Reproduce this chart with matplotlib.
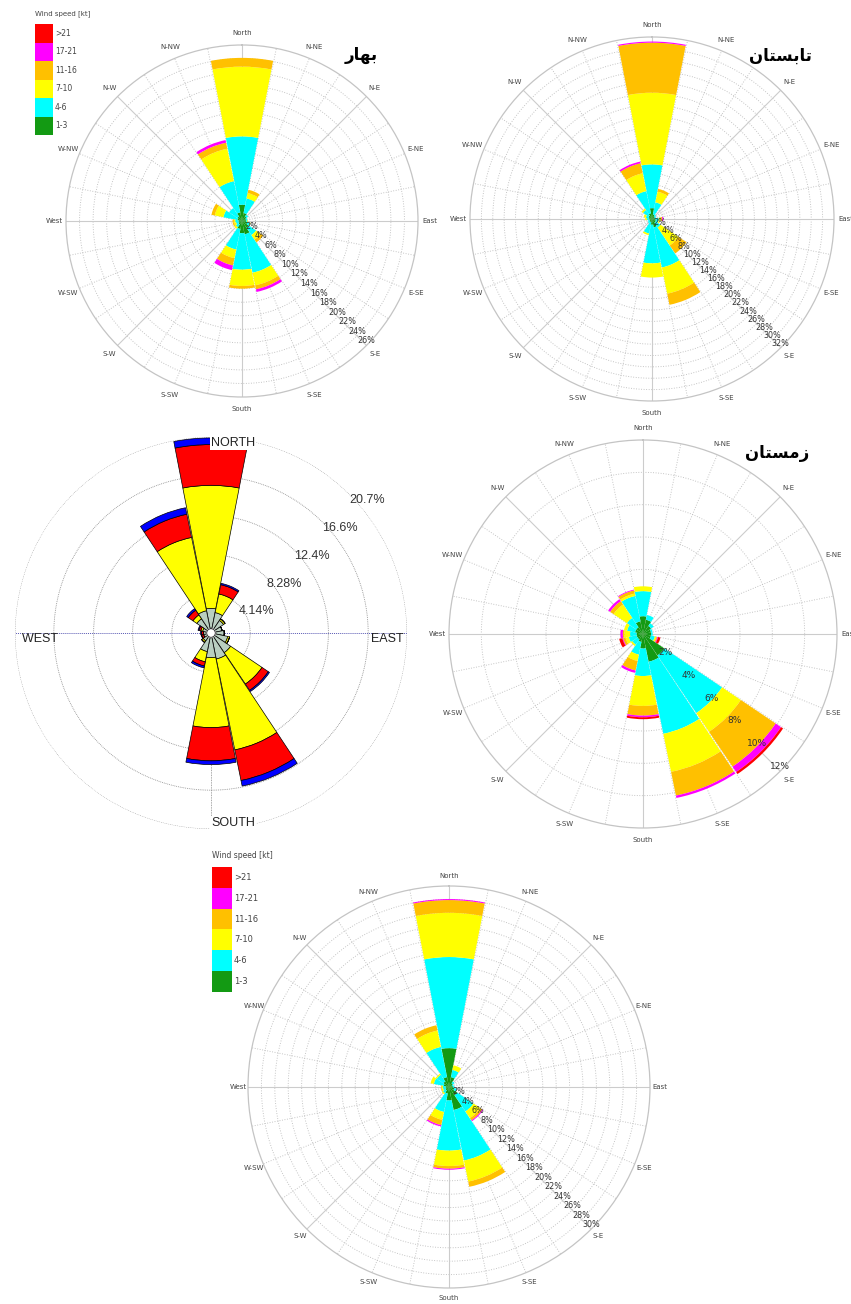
import numpy as np
import matplotlib
matplotlib.use("Agg")
import matplotlib.pyplot as plt
from matplotlib.patches import Rectangle

W, H = 851, 1304

dir_labels = ["North", "N-NE", "N-E", "E-NE", "East", "E-SE", "S-E", "S-SE",
              "South", "S-SW", "S-W", "W-SW", "West", "W-NW", "N-W", "N-NW"]
speed_classes = ["1-3", "4-6", "7-10", "11-16", "17-21", ">21"]
speed_colors = ["#139a13", "#00ffff", "#ffff00", "#ffc000", "#ff00ff", "#ff0000"]

# frequency (%) per speed class, rows = 1-3, 4-6, 7-10, 11-16, 17-21, >21
# columns = N, NNE, NE, ENE, E, ESE, SE, SSE, S, SSW, SW, WSW, W, WNW, NW, NNW
spring = [
    [2.4, 1.2, 0.8, 0.6, 0.6, 0.8, 1.2, 2.0, 1.8, 1.2, 0.6, 0.5, 0.5, 0.7, 0.8, 1.3],
    [10.1, 2.2, 0.3, 0.2, 0.2, 0.4, 1.3, 5.8, 5.4, 3.1, 0.5, 0.4, 0.5, 2.1, 1.5, 4.7],
    [10.3, 0.8, 0.0, 0.0, 0.1, 0.1, 0.8, 1.9, 2.4, 1.3, 0.3, 0.3, 0.2, 1.3, 0.0, 4.9],
    [1.3, 0.5, 0.0, 0.0, 0.0, 0.0, 0.5, 0.6, 0.4, 1.1, 0.0, 0.2, 0.2, 0.5, 0.0, 0.9],
    [0.0, 0.0, 0.0, 0.0, 0.0, 0.0, 0.0, 0.4, 0.0, 0.7, 0.0, 0.0, 0.0, 0.0, 0.0, 0.4],
    [0.0] * 16,
]
summer = [
    [1.9, 0.8, 0.6, 0.5, 0.6, 0.7, 0.8, 1.5, 1.0, 0.6, 0.5, 0.4, 0.5, 0.6, 0.7, 1.0],
    [7.7, 2.2, 0.3, 0.2, 0.6, 0.5, 1.0, 7.2, 6.8, 2.0, 0.4, 0.3, 0.4, 0.5, 1.2, 4.0],
    [12.6, 1.9, 0.0, 0.0, 0.3, 0.2, 3.8, 4.7, 2.5, 0.3, 0.0, 0.0, 0.3, 0.4, 0.3, 3.2],
    [8.8, 0.5, 0.0, 0.0, 0.3, 0.0, 1.7, 2.0, 0.0, 0.0, 0.0, 0.0, 0.0, 0.0, 0.0, 1.8],
    [0.2, 0.0, 0.0, 0.0, 0.2, 0.0, 0.0, 0.0, 0.0, 0.0, 0.0, 0.0, 0.0, 0.0, 0.0, 0.3],
    [0.0] * 16,
]
winter = [
    [1.1, 0.9, 0.6, 0.5, 0.5, 0.5, 1.6, 1.75, 0.9, 0.5, 0.4, 0.4, 0.4, 0.5, 0.5, 0.8],
    [1.55, 0.3, 0.2, 0.1, 0.1, 0.25, 4.3, 4.55, 1.7, 0.8, 0.4, 0.5, 0.4, 0.5, 0.7, 1.6],
    [0.3, 0.0, 0.0, 0.0, 0.0, 0.1, 1.4, 2.4, 1.85, 0.4, 0.1, 0.2, 0.35, 0.2, 1.0, 0.15],
    [0.0, 0.0, 0.0, 0.0, 0.0, 0.05, 2.6, 1.5, 0.6, 0.6, 0.0, 0.15, 0.1, 0.0, 0.25, 0.2],
    [0.0, 0.0, 0.0, 0.0, 0.0, 0.05, 0.4, 0.15, 0.1, 0.15, 0.0, 0.05, 0.15, 0.0, 0.15, 0.05],
    [0.0, 0.0, 0.0, 0.0, 0.0, 0.15, 0.15, 0.0, 0.12, 0.0, 0.0, 0.2, 0.0, 0.0, 0.0, 0.0],
]
annual = [
    [5.8, 1.5, 0.7, 0.5, 0.6, 0.8, 1.5, 3.5, 2.0, 1.0, 0.6, 0.5, 0.5, 0.8, 1.0, 1.5],
    [13.6, 1.1, 0.3, 0.2, 0.2, 0.4, 2.9, 7.7, 7.5, 2.8, 0.5, 0.4, 0.4, 1.5, 1.2, 4.6],
    [6.6, 0.7, 0.0, 0.0, 0.0, 0.0, 1.2, 3.2, 2.3, 1.2, 0.2, 0.2, 0.2, 0.5, 0.2, 2.5],
    [1.9, 0.0, 0.0, 0.0, 0.0, 0.0, 0.4, 0.8, 0.4, 0.8, 0.0, 0.1, 0.1, 0.0, 0.0, 0.8],
    [0.15, 0.0, 0.0, 0.0, 0.0, 0.0, 0.15, 0.0, 0.15, 0.2, 0.0, 0.0, 0.0, 0.0, 0.0, 0.0],
    [0.0] * 16,
]

# second (matlab style) rose: inner class, then yellow, red, blue
ml_colors = ["#b9cfc0", "#ffff00", "#ff0000", "#0000ff"]
ml_freq = [
    [2.15, 1.75, 1.15, 0.75, 0.95, 1.35, 2.05, 2.35, 2.15, 1.55, 0.55, 0.35, 0.35, 0.45, 1.35, 1.95],
    [13.0, 2.0, 0.2, 0.0, 0.0, 0.2, 4.0, 9.8, 7.4, 1.1, 0.2, 0.0, 0.0, 0.2, 0.5, 7.9],
    [4.3, 1.0, 0.0, 0.0, 0.0, 0.0, 0.8, 3.3, 3.5, 0.45, 0.0, 0.2, 0.2, 0.2, 0.6, 2.5],
    [0.7, 0.15, 0.0, 0.0, 0.0, 0.0, 0.15, 0.6, 0.4, 0.2, 0.0, 0.05, 0.1, 0.1, 0.2, 0.7],
]
ml_rings = [4.14, 8.28, 12.4, 16.6, 20.7]
ml_ring_labels = ["4.14%", "8.28%", "12.4%", "16.6%", "20.7%"]
ml_calm = 0.45

# persian season names, shaped by hand (presentation forms, visual order)
title_spring = "\uFEAD\uFE8E\uFEEC\uFE91"
title_summer = "\uFEE5\uFE8E\uFE98\uFEB4\uFE91\uFE8E\uFE97"
title_winter = "\uFEE5\uFE8E\uFE98\uFEB4\uFEE3\uFEAF"

theta = np.deg2rad(np.arange(16) * 22.5)
circ = np.linspace(0, 2 * np.pi, 400)


def rect_for(cx, cy, r):
    return [(cx - r) / W, 1 - (cy + r) / H, 2 * r / W, 2 * r / H]


def windrose(fig, cx, cy, rad, rmax, freq, lab_size=5.8, lab_off=12.0):
    ax = fig.add_axes(rect_for(cx, cy, rad), projection="polar")
    ax.set_theta_zero_location("N")
    ax.set_theta_direction(-1)
    ax.grid(False)
    ax.set_xticks([])
    ax.set_yticks([])
    ax.spines["polar"].set_color("#c4c4c4")
    ax.spines["polar"].set_linewidth(0.9)
    for r in range(2, rmax, 2):
        ax.plot(circ, np.full_like(circ, r), ls=(0, (1, 1.8)), color="#bdbdbd", lw=0.65, zorder=1)
    for a in np.arange(0, 360, 11.25):
        if a % 45 == 0:
            ax.plot([np.deg2rad(a)] * 2, [0, rmax], color="#cccccc", lw=0.8, zorder=1)
        else:
            ax.plot([np.deg2rad(a)] * 2, [0, rmax], ls=(0, (1, 1.8)), color="#bdbdbd", lw=0.65, zorder=1)

    bottom = np.zeros(16)
    for vals, col in zip(freq, speed_colors):
        vals = np.array(vals)
        ax.bar(theta, vals, width=np.deg2rad(22), bottom=bottom, color=col,
               edgecolor="none", zorder=2)
        bottom += vals
    ax.set_ylim(0, rmax)

    r_lab = rmax * (1 + lab_off / rad)
    for a, lab in zip(theta, dir_labels):
        ax.text(a, r_lab, lab, ha="center", va="center", fontsize=5, color="#444444")
    for r in range(2, rmax + 1, 2):
        ax.text(np.deg2rad(135), r, f"{r}%", ha="center", va="bottom",
                fontsize=lab_size, color="#333333", zorder=5)
    return ax


def matlab_rose(fig, cx, cy, rad):
    rmax = ml_rings[-1]
    ax = fig.add_axes(rect_for(cx, cy, rad), projection="polar")
    ax.set_theta_zero_location("N")
    ax.set_theta_direction(-1)
    ax.grid(False)
    ax.set_xticks([])
    ax.set_yticks([])
    ax.spines["polar"].set_visible(False)
    for r in ml_rings:
        ax.plot(circ, np.full_like(circ, r), ls=(0, (1, 1.2)), color="#8a8a8a", lw=0.6, zorder=1)
    ax.plot([np.pi / 2] * 2, [0, rmax], ls=(0, (1, 1)), color="#5a5ab4", lw=0.7, zorder=1)
    ax.plot([3 * np.pi / 2] * 2, [0, rmax], ls=(0, (1, 1)), color="#5a5ab4", lw=0.7, zorder=1)
    ax.plot([0, 0], [0, rmax], ls=(0, (1, 1)), color="#8a8a8a", lw=0.6, zorder=1)
    ax.plot([np.pi] * 2, [0, rmax], ls=(0, (1, 1)), color="#8a8a8a", lw=0.6, zorder=1)

    bottom = np.full(16, ml_calm)
    for vals, col in zip(ml_freq, ml_colors):
        vals = np.array(vals)
        ax.bar(theta, vals, width=np.deg2rad(22), bottom=bottom, color=col,
               edgecolor="black", linewidth=0.5, zorder=2)
        bottom += vals
    ax.fill(circ, np.full_like(circ, ml_calm), color="white", zorder=3)
    ax.plot(circ, np.full_like(circ, ml_calm), color="black", lw=0.5, zorder=3)
    ax.set_ylim(0, rmax)

    for r, lab in zip(ml_rings, ml_ring_labels):
        ax.text(np.deg2rad(45), r, lab, ha="left", va="top", fontsize=9,
                family="Liberation Sans", color="#333333", zorder=5)
    fs = dict(fontsize=9, family="Liberation Sans", color="#222222", zorder=6)
    ax.text(0, rmax, "NORTH", ha="left", va="top",
            bbox=dict(facecolor="white", edgecolor="none", pad=0.5), **fs)
    ax.text(np.pi, rmax, "SOUTH", ha="left", va="bottom",
            bbox=dict(facecolor="white", edgecolor="none", pad=0.5), **fs)
    ax.text(3 * np.pi / 2, rmax, "  WEST", ha="left", va="top", **fs)
    ax.text(np.pi / 2, rmax, "EAST ", ha="right", va="top", **fs)
    return ax


fig = plt.figure(figsize=(W / 100, H / 100), dpi=100)

windrose(fig, 242, 221, 176, 26, spring)
windrose(fig, 652, 219, 182, 32, summer)
matlab_rose(fig, 211, 633, 196)
windrose(fig, 643, 634, 194, 12, winter, lab_size=6.5)
windrose(fig, 449, 1087, 201, 30, annual, lab_off=10.0)

# overlay in pixel coordinates for legends and titles
ov = fig.add_axes([0, 0, 1, 1])
ov.set_xlim(0, W)
ov.set_ylim(H, 0)
ov.axis("off")


def legend(x, y, w, h, fs, title_y):
    ov.text(x, title_y, "Wind speed [kt]", fontsize=fs - 0.5, color="#444444", va="center")
    for i, (lab, col) in enumerate(zip(speed_classes[::-1], speed_colors[::-1])):
        ov.add_patch(Rectangle((x, y + i * h), w, h, facecolor=col, edgecolor="none"))
        ov.text(x + w + 2, y + i * h + h / 2, lab, fontsize=fs, color="#444444", va="center")


legend(35, 24, 18, 18.5, 5.5, 14)
legend(212, 867, 20, 20.8, 6, 855)

ov.text(361, 55, title_spring, fontsize=12, fontweight="bold", family="DejaVu Sans",
        ha="center", va="center")
ov.text(780, 56, title_summer, fontsize=12, fontweight="bold", family="DejaVu Sans",
        ha="center", va="center")
ov.text(777, 453, title_winter, fontsize=12, fontweight="bold", family="DejaVu Sans",
        ha="center", va="center")

fig.savefig("out.png", dpi=100)
